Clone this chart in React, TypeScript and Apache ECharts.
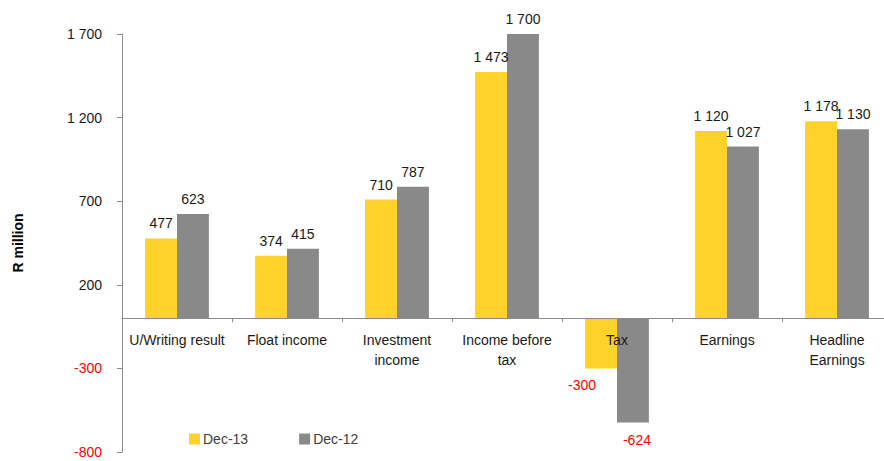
import React, { useEffect, useRef } from "react";
import * as echarts from "echarts";

const categories = [
  "U/Writing result",
  "Float income",
  "Investment\nincome",
  "Income before\ntax",
  "Tax",
  "Earnings",
  "Headline\nEarnings",
];
const dec13 = [477, 374, 710, 1473, -300, 1120, 1178];
const dec12 = [623, 415, 787, 1700, -624, 1027, 1130];
const seriesNames = ["Dec-13", "Dec-12"];
const yMin = -800;
const yMax = 1700;
const yInterval = 500;

const fmt = (v: number) =>
  String(v).replace(/\B(?=(\d{3})+(?!\d))/g, " ");

const FONT = "'Liberation Sans', Arial, sans-serif";

function buildData(values: number[], negOffsetX: number) {
  return values.map((v) =>
    v < 0
      ? {
          value: v,
          label: {
            position: "bottom",
            distance: 10,
            color: "#ff0000",
            offset: [negOffsetX, 0],
          },
        }
      : { value: v }
  );
}

export default function App() {
  const ref = useRef<HTMLDivElement>(null);
  useEffect(() => {
    if (!ref.current) return;
    const chart = echarts.init(ref.current, undefined, { renderer: "svg" });
    chart.setOption({
      animation: false,
      backgroundColor: "#ffffff",
      textStyle: { fontFamily: FONT },
      legend: {
        data: seriesNames,
        left: 189,
        top: 432,
        padding: 0,
        itemWidth: 11,
        itemHeight: 11,
        itemGap: 51,
        icon: "rect",
        textStyle: { fontFamily: FONT, fontSize: 14, color: "#404040", padding: [0, 0, 0, -2] },
      },
      grid: {
        left: 122,
        right: -8,
        top: 34,
        bottom: 9,
        containLabel: false,
        outerBoundsMode: "none",
      },
      xAxis: {
        type: "category",
        data: categories,
        z: 10,
        axisLine: { onZero: true, lineStyle: { color: "#8c8c8c", width: 1 } },
        axisTick: { show: true, length: 4, lineStyle: { color: "#8c8c8c" } },
        axisLabel: {
          color: "#1a1a1a",
          fontFamily: FONT,
          fontSize: 14,
          margin: -122,
          lineHeight: 20,
          interval: 0,
        },
        splitLine: { show: false },
      },
      yAxis: {
        type: "value",
        min: yMin,
        max: yMax,
        interval: yInterval,
        name: "R million",
        nameLocation: "middle",
        nameGap: 97,
        nameTextStyle: { fontFamily: FONT, fontSize: 14, fontWeight: "bold", color: "#000" },
        axisLine: { show: true, lineStyle: { color: "#8c8c8c", width: 1 } },
        axisTick: { show: true, length: 5, lineStyle: { color: "#8c8c8c" } },
        splitLine: { show: false },
        axisLabel: {
          margin: 20,
          fontFamily: FONT,
          fontSize: 14,
          color: "#1a1a1a",
          formatter: (v: number) => (v < 0 ? "{neg|" + fmt(v) + "}" : fmt(v)),
          rich: { neg: { color: "#ff0000", fontFamily: FONT, fontSize: 14 } },
        },
      },
      series: [
        {
          name: seriesNames[0],
          type: "bar",
          data: buildData(dec13, -19),
          barGap: "0%",
          barCategoryGap: "42%",
          itemStyle: { color: "#FFD22A" },
          label: {
            show: true,
            position: "top",
            distance: 8,
            fontFamily: FONT,
            fontSize: 14,
            color: "#1a1a1a",
            formatter: (p: any) => fmt(p.value),
          },
        },
        {
          name: seriesNames[1],
          type: "bar",
          data: buildData(dec12, 4),
          barGap: "0%",
          barCategoryGap: "42%",
          itemStyle: { color: "#898989" },
          label: {
            show: true,
            position: "top",
            distance: 8,
            fontFamily: FONT,
            fontSize: 14,
            color: "#1a1a1a",
            formatter: (p: any) => fmt(p.value),
          },
        },
      ],
    });
    return () => chart.dispose();
  }, []);
  return (
    <div
      ref={ref}
      style={{ position: "fixed", left: 0, top: 0, width: 884, height: 461 }}
    />
  );
}
